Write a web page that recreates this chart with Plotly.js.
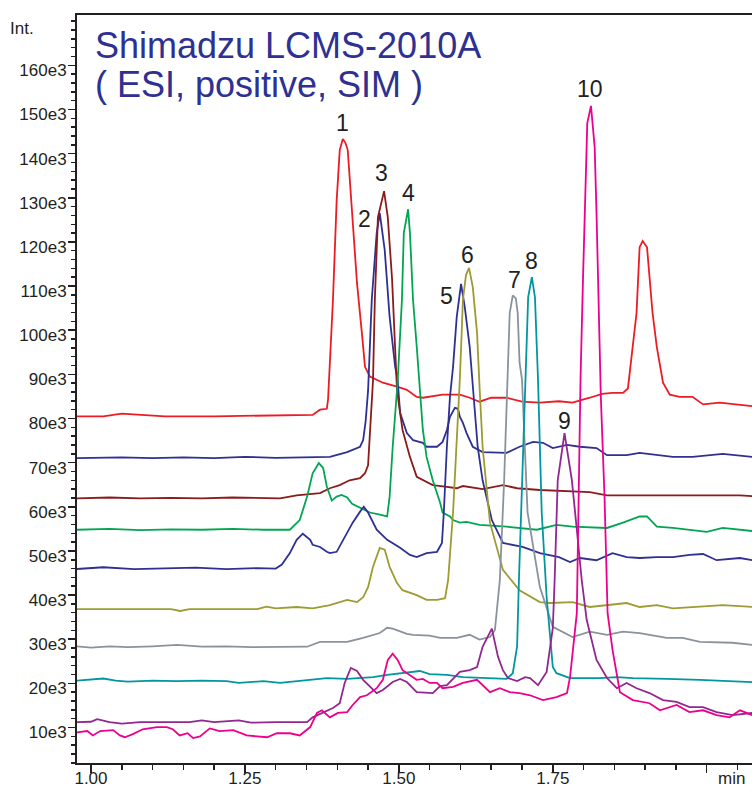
<!DOCTYPE html>
<html><head><meta charset="utf-8">
<script src="https://cdn.plot.ly/plotly-3.0.1.min.js"></script>
<style>html,body{margin:0;padding:0;background:#fff;overflow:hidden;} #chart{width:752px;height:787px;}</style>
</head><body><div id="chart"></div>
<script>
// Retention time (min) and intensity (x1e3)
const time1 = [0.977,1.02,1.05,1.08,1.12,1.20,1.28,1.34,1.36,1.372,1.383,1.385,1.388,1.393,1.399,1.404,1.409,1.413,1.417,1.424,1.432,1.440,1.445,1.453,1.474,1.497,1.513,1.529,1.539,1.571,1.599,1.615,1.631,1.650,1.675,1.700,1.729,1.760,1.782,1.810,1.830,1.847,1.864,1.872,1.880,1.886,1.891,1.896,1.903,1.907,1.912,1.919,1.929,1.940,1.956,1.977,1.994,2.021,2.054,2.074];
const int1  = [80.5,80.5,81.1,80.8,80.5,80.5,80.6,80.8,80.8,82.0,82.2,84.3,91.7,106.9,129.4,140.8,143.3,142.5,140.8,125.6,110.7,99.3,91.7,89.5,88.1,87.2,86.5,84.9,84.7,85.4,85.4,84.7,83.8,84.7,84.7,83.8,83.6,83.9,83.6,84.7,85.6,85.8,85.8,86.8,96.1,103.9,118.8,120.2,118.8,111.5,103.9,96.1,88.1,85.4,84.9,84.9,83.2,83.6,83.2,82.8];

const time2 = [0.977,1.05,1.10,1.15,1.20,1.25,1.30,1.35,1.388,1.416,1.437,1.442,1.446,1.450,1.456,1.464,1.469,1.477,1.485,1.494,1.498,1.502,1.513,1.523,1.539,1.545,1.562,1.571,1.578,1.583,1.591,1.596,1.599,1.604,1.610,1.620,1.636,1.675,1.696,1.718,1.734,1.750,1.773,1.794,1.821,1.838,1.870,1.891,1.919,1.945,1.977,2.026,2.074];
const int2  = [71.0,71.2,71.0,71.2,71.0,71.3,71.1,71.3,71.3,72.4,73.6,75.1,79.3,86.3,106.9,122.0,126.5,118.2,103.0,91.7,88.8,81.3,76.7,75.1,74.5,73.6,73.6,74.7,77.4,80.4,82.4,82.2,80.4,79.0,76.7,73.6,72.4,72.2,73.6,74.7,74.5,73.3,74.0,73.6,73.3,71.7,71.7,72.2,71.7,71.3,71.3,72.0,71.3];

const time3 = [0.977,1.03,1.08,1.13,1.18,1.23,1.307,1.334,1.372,1.388,1.404,1.420,1.437,1.445,1.450,1.453,1.458,1.461,1.466,1.476,1.482,1.489,1.494,1.497,1.506,1.518,1.529,1.545,1.555,1.578,1.594,1.604,1.636,1.669,1.692,1.729,1.810,1.838,1.919,1.972,2.054,2.074];
const int3  = [61.9,62.1,61.9,62.0,61.9,62.1,61.9,62.6,63.1,64.2,64.9,66.0,66.5,67.6,69.4,77.4,88.6,106.9,125.6,131.5,125.6,111.5,96.3,86.3,77.4,71.3,66.8,65.6,64.9,64.5,64.2,64.7,64.0,64.9,64.2,63.8,63.3,62.6,62.6,62.6,62.6,62.4];

const time4 = [0.977,1.03,1.08,1.13,1.18,1.23,1.28,1.323,1.339,1.351,1.360,1.370,1.377,1.383,1.391,1.399,1.407,1.416,1.424,1.437,1.453,1.469,1.481,1.485,1.490,1.498,1.505,1.508,1.515,1.518,1.523,1.529,1.534,1.539,1.545,1.555,1.567,1.571,1.583,1.588,1.599,1.610,1.631,1.675,1.724,1.756,1.782,1.838,1.864,1.891,1.903,1.919,1.945,2.000,2.026,2.074];
const int4  = [54.8,55.0,54.7,54.9,54.8,55.0,54.8,54.8,57.0,62.3,67.6,69.9,68.8,64.6,61.4,62.3,62.7,62.1,60.7,59.8,58.7,58.2,57.8,62.3,73.6,88.3,106.9,122.0,127.4,122.0,106.9,96.3,85.8,77.4,71.3,66.0,60.9,58.7,57.8,57.0,56.4,56.6,55.9,55.5,54.8,55.9,55.5,55.2,56.4,57.8,57.8,55.5,55.2,54.3,55.2,54.5];

const time5 = [0.977,1.02,1.07,1.12,1.17,1.22,1.27,1.30,1.31,1.323,1.334,1.344,1.356,1.360,1.372,1.383,1.388,1.399,1.407,1.416,1.425,1.437,1.443,1.450,1.464,1.481,1.502,1.518,1.529,1.545,1.562,1.570,1.573,1.578,1.583,1.588,1.594,1.601,1.607,1.615,1.620,1.628,1.636,1.651,1.669,1.701,1.729,1.760,1.778,1.794,1.821,1.847,1.870,1.891,1.919,1.945,1.972,1.994,2.016,2.054,2.074];
const int5  = [45.9,46.3,45.9,46.0,46.2,45.9,46.1,46.0,46.9,49.5,52.5,53.9,52.5,51.4,50.9,49.8,49.5,49.8,51.8,54.1,56.4,58.9,60.0,58.7,54.8,52.5,50.7,49.1,48.6,49.5,49.8,51.8,58.7,73.6,84.9,91.7,103.0,110.5,105.3,96.3,88.1,73.6,66.0,57.0,51.8,50.9,49.5,48.6,47.5,48.4,47.9,49.5,48.6,48.4,48.6,48.6,49.1,49.3,47.9,48.4,47.9];

const time6 = [0.977,1.03,1.08,1.13,1.145,1.16,1.22,1.27,1.285,1.30,1.334,1.36,1.388,1.416,1.432,1.442,1.450,1.458,1.469,1.477,1.485,1.497,1.506,1.529,1.545,1.562,1.575,1.580,1.588,1.594,1.599,1.602,1.604,1.609,1.614,1.620,1.627,1.631,1.636,1.648,1.669,1.696,1.729,1.745,1.782,1.810,1.838,1.870,1.891,1.919,1.945,2.000,2.026,2.074];
const int6  = [36.8,36.8,36.8,36.8,36.4,36.8,36.8,36.8,37.4,37.0,37.3,37.0,37.7,38.9,38.4,39.5,41.8,46.4,50.7,50.3,46.4,42.7,41.1,40.0,38.9,38.9,39.3,43.4,58.7,73.6,88.8,99.4,106.9,112.5,114.1,109.8,99.4,87.3,73.6,56.4,45.7,41.1,38.4,38.2,38.4,37.3,37.7,38.2,37.3,37.7,37.0,37.5,37.7,37.3];

const time7 = [0.977,1.00,1.03,1.06,1.10,1.14,1.18,1.22,1.26,1.30,1.351,1.372,1.416,1.442,1.469,1.481,1.490,1.513,1.523,1.550,1.567,1.594,1.615,1.631,1.648,1.656,1.659,1.664,1.671,1.677,1.680,1.685,1.690,1.693,1.696,1.700,1.709,1.729,1.750,1.782,1.810,1.838,1.864,1.891,1.935,1.961,1.989,2.042,2.074];
const int7  = [28.4,28.1,28.4,28.2,28.4,28.7,28.3,28.4,28.2,28.3,28.3,29.4,29.4,30.3,31.4,32.6,32.4,31.2,31.0,30.8,30.3,30.3,31.0,29.9,30.5,32.1,35.9,43.4,66.0,88.8,103.9,107.9,107.2,103.9,92.7,88.8,58.7,41.8,32.8,30.5,31.7,31.0,31.7,31.4,30.3,30.3,29.4,29.2,28.7];

const time8 = [0.977,1.00,1.02,1.04,1.06,1.10,1.14,1.18,1.22,1.24,1.28,1.307,1.360,1.383,1.416,1.458,1.481,1.523,1.534,1.550,1.578,1.604,1.631,1.675,1.685,1.692,1.695,1.705,1.708,1.710,1.716,1.721,1.726,1.732,1.740,1.745,1.750,1.756,1.778,1.799,1.826,1.854,1.880,1.935,1.989,2.074];
const int8  = [20.6,20.8,21.1,20.6,20.4,20.6,20.5,20.6,20.5,20.1,20.5,20.1,20.8,21.2,21.0,21.4,21.9,22.6,22.8,22.1,21.9,21.4,21.2,21.0,22.3,28.3,43.4,85.4,96.2,107.5,112.0,107.5,88.8,58.7,39.5,32.1,23.7,22.3,21.2,21.2,21.2,21.4,21.2,21.0,20.8,20.3];

const time9 = [0.977,1.00,1.01,1.03,1.05,1.08,1.12,1.16,1.18,1.20,1.24,1.26,1.30,1.351,1.360,1.377,1.393,1.404,1.412,1.422,1.432,1.442,1.453,1.464,1.474,1.490,1.502,1.513,1.529,1.545,1.555,1.567,1.578,1.599,1.615,1.627,1.636,1.651,1.661,1.669,1.677,1.692,1.705,1.713,1.726,1.740,1.750,1.753,1.758,1.769,1.781,1.789,1.797,1.805,1.821,1.838,1.854,1.870,1.886,1.907,1.929,1.951,1.972,1.994,2.016,2.042,2.074];
const int9  = [11.2,11.3,11.9,11.2,10.9,11.2,11.2,11.2,11.6,11.2,11.6,11.1,11.2,11.2,12.3,13.3,14.4,15.5,20.1,23.5,22.8,20.8,19.2,17.8,18.5,20.3,21.0,20.3,18.0,17.8,17.8,19.4,19.6,22.6,23.0,23.7,28.3,32.4,26.0,23.0,21.2,20.5,21.4,21.2,19.6,22.6,32.5,43.4,66.0,76.7,66.0,54.8,43.4,34.4,25.3,21.2,18.9,20.1,18.9,17.8,16.2,15.8,14.6,14.6,13.5,12.8,13.3];

const time10 = [0.977,0.994,1.003,1.015,1.036,1.047,1.055,1.068,1.084,1.107,1.123,1.133,1.144,1.157,1.166,1.177,1.193,1.209,1.231,1.253,1.286,1.302,1.323,1.339,1.356,1.367,1.375,1.388,1.401,1.416,1.425,1.437,1.448,1.464,1.474,1.482,1.490,1.498,1.506,1.518,1.529,1.539,1.550,1.562,1.571,1.588,1.604,1.627,1.636,1.648,1.664,1.680,1.696,1.713,1.734,1.756,1.773,1.778,1.789,1.795,1.799,1.804,1.806,1.812,1.818,1.821,1.825,1.828,1.834,1.839,1.847,1.859,1.880,1.907,1.924,1.951,1.972,1.994,2.016,2.037,2.054,2.074];
const int10  = [8.9,9.2,8.2,9.2,9.4,8.2,7.8,8.5,9.6,10.1,10.1,9.6,8.2,8.7,7.6,8.0,9.8,9.2,9.4,8.2,7.8,8.7,8.7,8.2,10.1,13.3,13.9,12.3,13.3,13.5,15.1,16.9,17.3,18.9,20.8,25.3,26.7,25.3,23.0,21.9,20.8,21.0,20.1,20.1,18.9,19.2,20.1,20.8,19.6,18.0,18.9,18.0,17.8,17.3,16.2,16.9,17.8,21.4,35.9,88.8,111.4,134.0,146.9,150.8,141.5,126.5,103.9,84.9,62.3,35.9,27.6,18.0,16.2,15.5,13.9,15.1,13.5,13.9,12.8,12.3,13.9,12.8];

const peakLabels = ['1','2','3','4','5','6','7','8','9','10'];
const yTickValues = [10,20,30,40,50,60,70,80,90,100,110,120,130,140,150,160];
const yTickLabels = ['10e3','20e3','30e3','40e3','50e3','60e3','70e3','80e3','90e3','100e3','110e3','120e3','130e3','140e3','150e3','160e3'];
const xTickValues = [1.00,1.25,1.50,1.75,2.00];
const xTickLabels = ['1.00','1.25','1.50','1.75',''];
const titleLine1 = 'Shimadzu LCMS-2010A';
const titleLine2 = '( ESI, positive, SIM )';

// styles
const colors = ['#ec1c24','#2e3192','#8b1c1c','#00a651','#2e3192','#9d9b32','#8a939b','#00979e','#92278f','#ec008c'];
const labelShift = [[0,16],[-15,-6],[-3,18],[0,16],[-15,-12],[-2,13],[2,15],[0,16],[0,12],[-1,17]];

const series = [[time1,int1],[time2,int2],[time3,int3],[time4,int4],[time5,int5],[time6,int6],[time7,int7],[time8,int8],[time9,int9],[time10,int10]];
const FONT = 'Liberation Sans, Arial, Helvetica, sans-serif';
const INK = '#231f20';

const traces = series.map((s, i) => ({
  x: s[0], y: s[1], type: 'scatter', mode: 'lines',
  line: {color: colors[i], width: 1.8}, hoverinfo: 'skip', showlegend: false
}));

const annotations = series.map((s, i) => {
  let k = 0;
  s[1].forEach((v, j) => { if (v > s[1][k]) k = j; });
  return {x: s[0][k], y: s[1][k], xref: 'x', yref: 'y', text: peakLabels[i], showarrow: false,
    xanchor: 'center', yanchor: 'middle', xshift: labelShift[i][0], yshift: labelShift[i][1],
    font: {family: FONT, size: 23, color: INK}};
});
annotations.push({xref:'paper', yref:'paper', x:0.0237, y:0.9588, xanchor:'left', yanchor:'middle', showarrow:false,
  text:titleLine1, font:{family:FONT, size:36, color:'#2e3192'}});
annotations.push({xref:'paper', yref:'paper', x:0.0237, y:0.9075, xanchor:'left', yanchor:'middle', showarrow:false,
  text:titleLine2, font:{family:FONT, size:36, color:'#2e3192'}});
annotations.push({xref:'paper', yref:'paper', x:-0.1022, y:0.9816, xanchor:'left', yanchor:'middle', showarrow:false,
  text:'Int.', font:{family:FONT, size:17, color:INK}});
annotations.push({xref:'paper', yref:'paper', x:0.9911, y:-0.0201, xanchor:'right', yanchor:'middle', showarrow:false,
  borderpad: 0, text:'min', font:{family:FONT, size:17, color:INK}});

const layout = {
  width: 752, height: 787,
  margin: {l: 77, r: 0, t: 15, b: 24, pad: 0},
  paper_bgcolor: '#ffffff', plot_bgcolor: '#ffffff',
  showlegend: false,
  xaxis: {
    range: [0.9773, 2.0735], showgrid: false, zeroline: false,
    showline: true, linecolor: INK, linewidth: 2, mirror: true,
    ticks: 'outside', ticklen: 8, tickwidth: 1.5, tickcolor: INK,
    tickmode: 'array', tickvals: xTickValues, ticktext: xTickLabels,
    ticklabelstandoff: -9,
    minor: {tickmode: 'linear', tick0: 1, dtick: 0.05, ticks: 'outside', ticklen: 5, tickwidth: 1.5, tickcolor: INK, showgrid: false},
    tickfont: {family: FONT, size: 17, color: INK}
  },
  yaxis: {
    range: [1.96, 171.4], showgrid: false, zeroline: false,
    showline: true, linecolor: INK, linewidth: 2, mirror: false,
    ticks: 'outside', ticklen: 7, tickwidth: 1.5, tickcolor: INK,
    tickmode: 'array', tickvals: yTickValues, ticktext: yTickLabels,
    ticklabelshift: 5, ticklabelstandoff: -2,
    minor: {tickmode: 'linear', tick0: 0, dtick: 2, ticks: 'outside', ticklen: 4, tickwidth: 1.5, tickcolor: INK, showgrid: false},
    tickfont: {family: FONT, size: 17, color: INK}
  },
  annotations: annotations
};

Plotly.newPlot('chart', traces, layout, {displayModeBar: false, staticPlot: true});
</script>
</body></html>
